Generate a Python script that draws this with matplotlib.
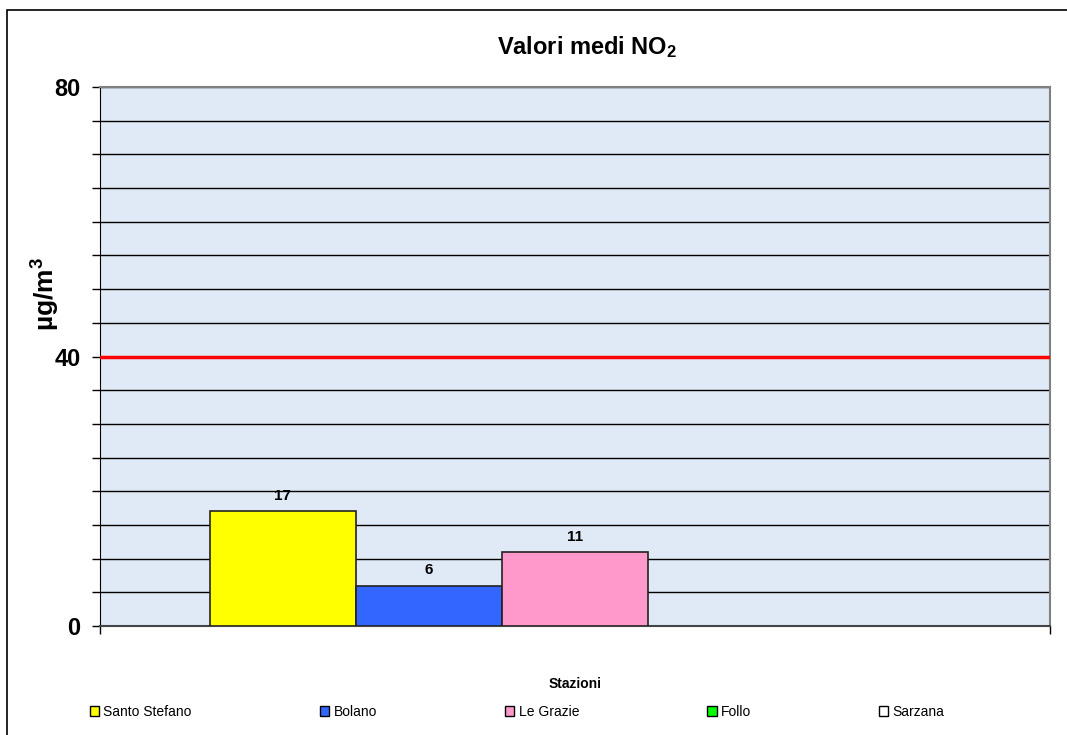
import numpy as np
import matplotlib
matplotlib.use("Agg")
import matplotlib.pyplot as plt
from matplotlib.patches import Rectangle

plt.rcParams['font.family'] = ['Liberation Sans', 'DejaVu Sans']
plt.rcParams['mathtext.fontset'] = 'custom'
plt.rcParams['mathtext.rm'] = 'Liberation Sans'
plt.rcParams['mathtext.bf'] = 'Liberation Sans:bold'
plt.rcParams['mathtext.default'] = 'bf'

# data
stations = ["Santo Stefano", "Bolano", "Le Grazie", "Follo", "Sarzana"]
values = [17, 6, 11, np.nan, np.nan]   # Follo, Sarzana: no data
colors = ["#FFFF00", "#3366FF", "#FF99CC", "#00FF00", "#FFFFFF"]
limit = 40
y_major = [0, 40, 80]

fig = plt.figure(figsize=(10.67, 7.35), dpi=100)
ax = fig.add_axes([100/1067, 1 - 626/735, 950/1067, 539/735])

# outer frame of the chart
fig.patches.append(Rectangle((7/1067, -0.1), 1.2, 1 - 10/735 + 0.1,
                             transform=fig.transFigure, fill=False,
                             edgecolor="black", linewidth=1.2))

ax.set_facecolor("#dfeaf6")

# bars: one category, series side by side (gap = 1.5 bar widths)
n = len(stations)
w = 1 / (n + 1.5)
for i, (name, v, c) in enumerate(zip(stations, values, colors)):
    x = -n * w / 2 + w * (i + 0.5)
    ax.bar(x, v, width=w, color=c, edgecolor="#222222", linewidth=1.2,
           label=name, zorder=3)
    if not np.isnan(v):
        ax.text(x, v + 1.2, f"{v:g}", ha="center", va="bottom",
                fontsize=11, fontweight="bold", zorder=4)

# limit line
ax.axhline(limit, color="#FF0000", linewidth=2.5, zorder=3)

ax.set_xlim(-0.5, 0.5)
ax.set_ylim(0, 80)
ax.set_yticks(y_major)
ax.set_yticklabels([str(v) for v in y_major], fontsize=17, fontweight="bold")
ax.set_yticks(np.arange(0, 81, 5), minor=True)
ax.grid(True, which="both", axis="y", color="black", linewidth=1, zorder=1)
ax.set_axisbelow(True)
ax.tick_params(axis="y", which="both", direction="out", length=6, width=1, pad=8)
ax.set_xticks([-0.5, 0.5])
ax.set_xticklabels([])
ax.tick_params(axis="x", direction="out", length=6, width=1)

for s in ["top", "right"]:
    ax.spines[s].set_color("#808080")
    ax.spines[s].set_linewidth(1.5)
ax.spines["left"].set_color("black")
ax.spines["bottom"].set_color("#444444")
ax.spines["bottom"].set_linewidth(1.5)

ax.set_ylabel(r"µg/m$^3$", fontsize=19, fontweight="bold")
ax.yaxis.set_label_coords(-38/950, (626 - 294)/539)

fig.text(587/1067, 1 - 47/735, r"Valori medi NO$_2$", ha="center", va="center",
         fontsize=17, fontweight="bold")
fig.text(575/1067, 1 - 684/735, "Stazioni", ha="center", va="center",
         fontsize=10, fontweight="bold")

leg = fig.legend(loc="center", bbox_to_anchor=(517/1067, 1 - 712/735), ncol=5,
                 frameon=False, fontsize=10, handlelength=0.7, handleheight=0.7,
                 handletextpad=0.3, columnspacing=9.2)
for h in leg.legend_handles:
    h.set_edgecolor("black")
    h.set_linewidth(1)

fig.savefig("out.png", dpi=100)
